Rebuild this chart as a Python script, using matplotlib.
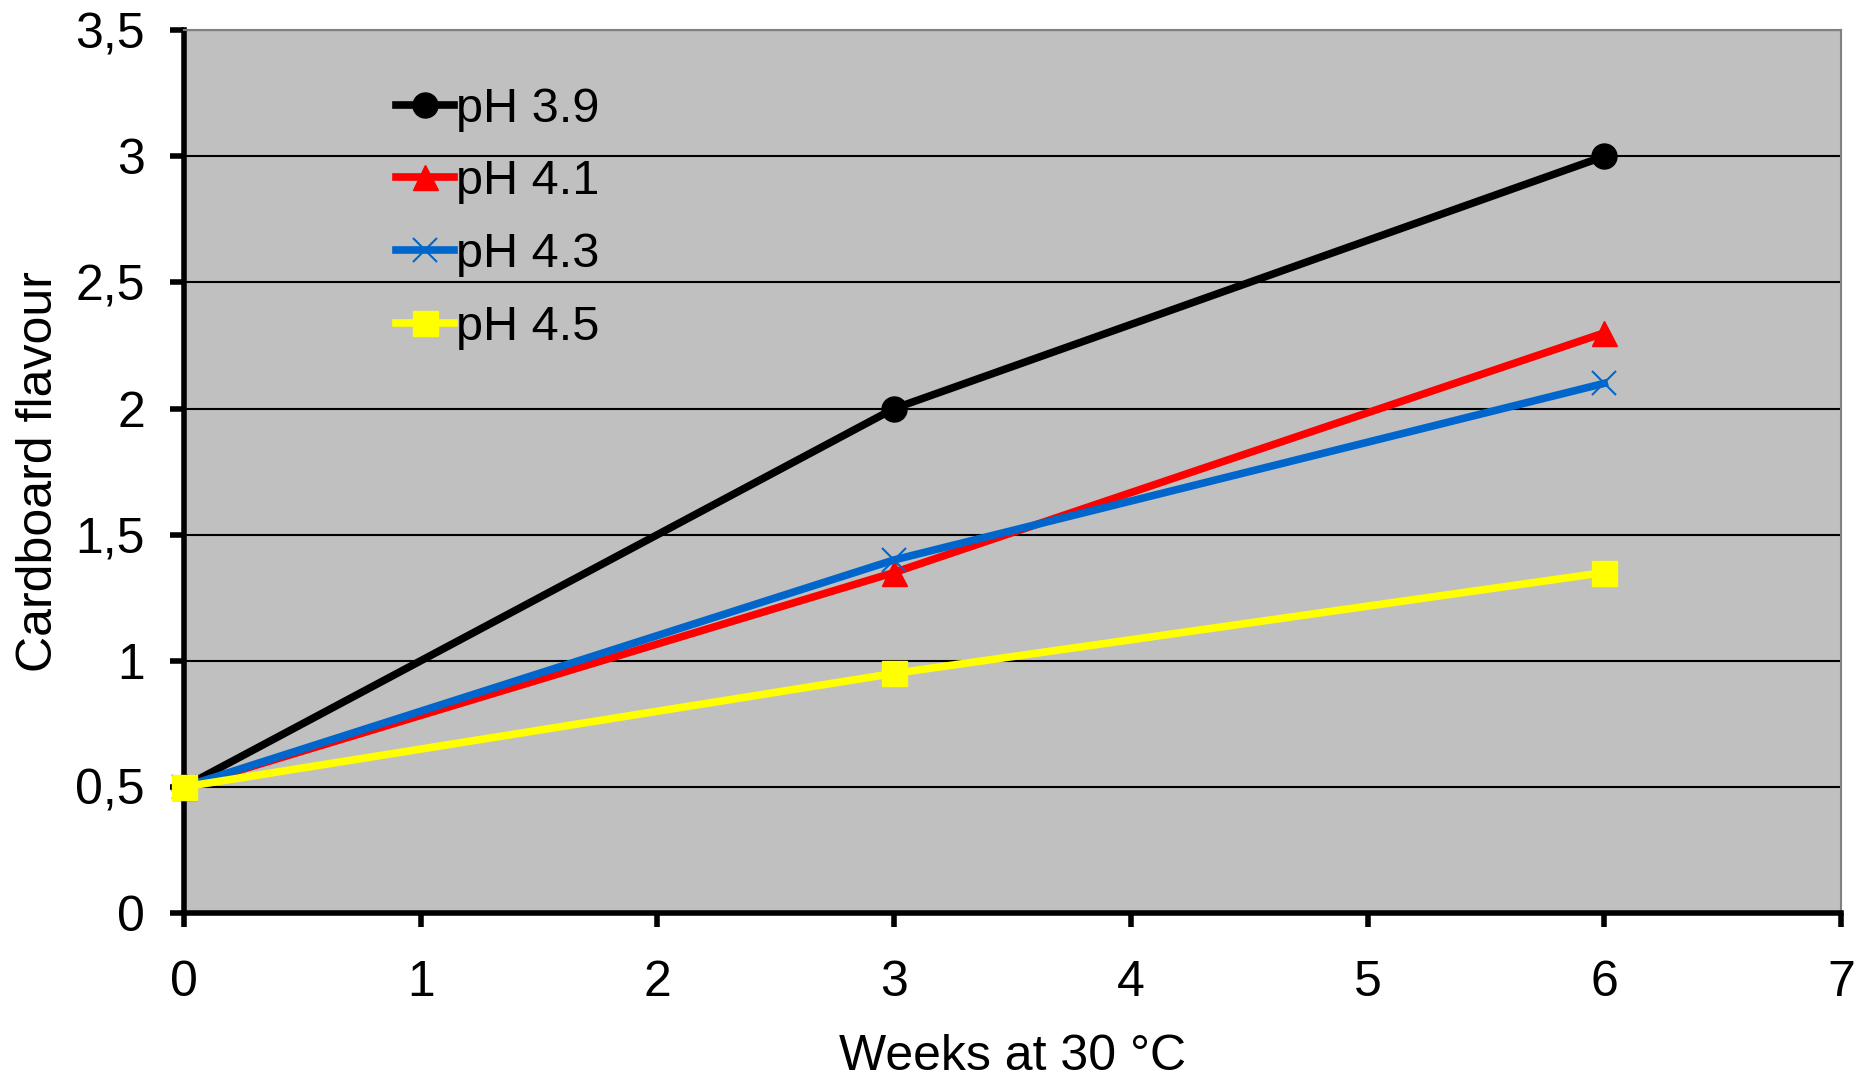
import matplotlib
matplotlib.use("Agg")
import matplotlib.pyplot as plt
from matplotlib.ticker import FuncFormatter

weeks = [0, 3, 6]
ph39 = [0.5, 2.0, 3.0]
ph41 = [0.5, 1.35, 2.3]
ph43 = [0.5, 1.4, 2.1]
ph45 = [0.5, 0.95, 1.35]
labels = ["pH 3.9", "pH 4.1", "pH 4.3", "pH 4.5"]

plt.rcParams['font.family'] = ['Liberation Sans', 'DejaVu Sans']

fig = plt.figure(figsize=(18.62, 10.79), dpi=100)
ax = fig.add_axes([0.0988, 0.1538, 0.8899, 0.8182])
ax.set_facecolor("#C0C0C0")

ax.plot(weeks, ph39, color="black", lw=5.5, marker="o", ms=18, label=labels[0], clip_on=False, zorder=3)
ax.plot(weeks, ph41, color="#FF0000", lw=5.5, marker="^", ms=18, label=labels[1], clip_on=False, zorder=3)
ax.plot(weeks, ph43, color="#0066CC", lw=5.5, marker="x", ms=17, mew=1.5, label=labels[2], clip_on=False, zorder=3)
ax.plot(weeks, ph45, color="#FFFF00", lw=5.5, marker="s", ms=18, label=labels[3], clip_on=False, zorder=3)

ax.set_xlim(0, 7)
ax.set_ylim(0, 3.5)
ax.set_xticks(range(8))
ax.set_yticks([0, 0.5, 1, 1.5, 2, 2.5, 3, 3.5])
ax.yaxis.set_major_formatter(FuncFormatter(lambda v, p: f"{v:g}".replace(".", ",")))
ax.grid(axis="y", color="black", lw=1.5, zorder=1)
ax.set_axisbelow(True)

for s in ["left", "bottom"]:
    ax.spines[s].set_linewidth(4)
    ax.spines[s].set_color("black")
for s in ["top", "right"]:
    ax.spines[s].set_linewidth(1.5)
    ax.spines[s].set_color("#808080")

ax.tick_params(axis="both", labelsize=36, width=4, length=10, direction="out", color="black")
ax.tick_params(axis="x", pad=24)
ax.tick_params(axis="y", pad=18)

ax.set_xlabel("Weeks at 30 °C", fontsize=36, labelpad=20)
ax.set_ylabel("Cardboard flavour", fontsize=36, labelpad=10)

ax.legend(loc="upper left", bbox_to_anchor=(0.116, 0.958), frameon=False, fontsize=35,
          handlelength=1.2, handletextpad=0.05, labelspacing=0.57, borderaxespad=0)

fig.savefig("out.png", dpi=100)
